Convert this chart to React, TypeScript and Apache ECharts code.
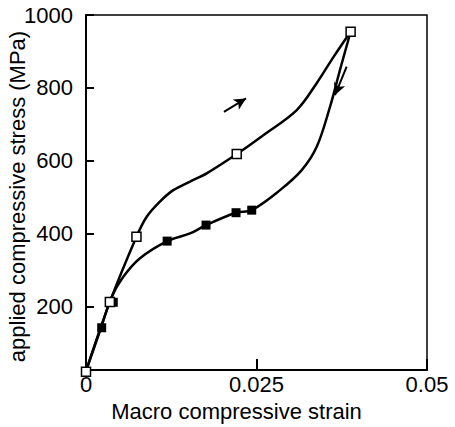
import React, { useEffect, useRef } from "react";
import * as echarts from "echarts";

// Loading curve (upper): strain, stress (MPa)
const loadStrain = [0, 0.0035, 0.0074, 0.0089, 0.0108, 0.0128, 0.0152, 0.0177, 0.0221, 0.026, 0.0309, 0.0338, 0.0363, 0.0388];
const loadStress = [22, 212, 391, 446, 487, 519, 542, 565, 618, 670, 739, 812, 885, 954];

// Unloading curve (lower)
const unloadStrain = [0.0388, 0.03724, 0.03578, 0.03383, 0.03163, 0.02845, 0.0243, 0.022, 0.0176, 0.01525, 0.01192, 0.00792, 0.00547, 0.00377, 0.0022, 0];
const unloadStress = [954, 849, 748, 638, 574, 519, 464, 457, 423, 400, 379, 332, 281, 226, 141, 22];

// Open squares (loading measurements)
const openStrain = [0, 0.0035, 0.0074, 0.0221, 0.0388];
const openStress = [20, 212, 391, 618, 954];

// Filled squares (unloading measurements)
const filledStrain = [0.0023, 0.004, 0.0119, 0.0176, 0.022, 0.0243];
const filledStress = [141, 211, 379, 423, 457, 464];

// Direction arrows: [fromStrain, fromStress, toStrain, toStress]
const arrowUp = [0.02023, 734, 0.02346, 771];
const arrowDown = [0.03822, 858, 0.03651, 780];

const yTicks = [200, 400, 600, 800, 1000];

const zip = (xs: number[], ys: number[]) => xs.map((x, i) => [x, ys[i]]);

export default function App() {
  const ref = useRef<HTMLDivElement>(null);
  useEffect(() => {
    if (!ref.current) return;
    const chart = echarts.init(ref.current, null, { renderer: "svg" });
    const font = "'Liberation Sans', Arial, sans-serif";
    chart.setOption({
      animation: false,
      grid: {
        left: 86,
        right: 28,
        top: 15,
        bottom: 57,
        containLabel: false,
        outerBoundsMode: "none",
        show: true,
        borderColor: "#000",
        borderWidth: 1.5,
        backgroundColor: "transparent",
      },
      xAxis: {
        type: "value",
        min: 0,
        max: 0.05,
        interval: 0.025,
        name: "Macro compressive strain",
        nameLocation: "middle",
        nameGap: 30,
        nameMoveOverlap: false,
        nameTextStyle: { color: "#000", fontSize: 22, fontFamily: font, padding: [0, 40, 0, 0] },
        axisLine: { show: true, onZero: false, lineStyle: { color: "#000", width: 2 } },
        axisTick: { show: true, inside: true, length: 11, lineStyle: { color: "#000", width: 2 } },
        axisLabel: { color: "#000", fontSize: 22, fontFamily: font, margin: 3, formatter: (v: number) => String(v) },
        splitLine: { show: false },
      },
      yAxis: {
        type: "value",
        min: 25,
        max: 1000,
        name: "applied compressive stress (MPa)",
        nameLocation: "middle",
        nameGap: 58,
        nameMoveOverlap: false,
        nameTextStyle: { color: "#000", fontSize: 22, fontFamily: font, padding: [0, 8, 0, 0] },
        axisLine: { show: true, onZero: false, lineStyle: { color: "#000", width: 2 } },
        axisTick: { show: true, inside: true, length: 8, customValues: yTicks, lineStyle: { color: "#000", width: 2 } },
        axisLabel: {
          color: "#000",
          fontSize: 22,
          fontFamily: font,
          margin: 13,
          customValues: yTicks,
          formatter: (v: number) => String(v),
        },
        splitLine: { show: false },
      },
      series: [
        {
          type: "line",
          data: zip(loadStrain, loadStress),
          smooth: 0.35,
          showSymbol: false,
          symbol: "none",
          clip: false,
          lineStyle: { color: "#000", width: 2.5 },
          z: 2,
        },
        {
          type: "line",
          data: zip(unloadStrain, unloadStress),
          smooth: 0.35,
          showSymbol: false,
          symbol: "none",
          clip: false,
          lineStyle: { color: "#000", width: 2.5 },
          z: 2,
        },
        {
          type: "scatter",
          data: zip(filledStrain, filledStress),
          symbol: "rect",
          symbolSize: 9,
          clip: false,
          itemStyle: { color: "#000", opacity: 1 },
          z: 3,
        },
        {
          type: "scatter",
          data: zip(openStrain, openStress),
          symbol: "rect",
          symbolSize: 9,
          clip: false,
          itemStyle: { color: "#fff", borderColor: "#000", borderWidth: 1.5, opacity: 1 },
          z: 4,
          markLine: {
            silent: true,
            symbol: ["none", "arrow"],
            symbolSize: [9, 12],
            label: { show: false },
            lineStyle: { color: "#000", width: 2, type: "solid" },
            data: [
              [{ coord: [arrowUp[0], arrowUp[1]] }, { coord: [arrowUp[2], arrowUp[3]] }],
              [{ coord: [arrowDown[0], arrowDown[1]] }, { coord: [arrowDown[2], arrowDown[3]] }],
            ],
          },
        },
      ],
    });
    return () => chart.dispose();
  }, []);
  return (
    <div
      ref={ref}
      style={{ position: "fixed", left: 0, top: 0, width: 455, height: 427, background: "#fff" }}
    />
  );
}
